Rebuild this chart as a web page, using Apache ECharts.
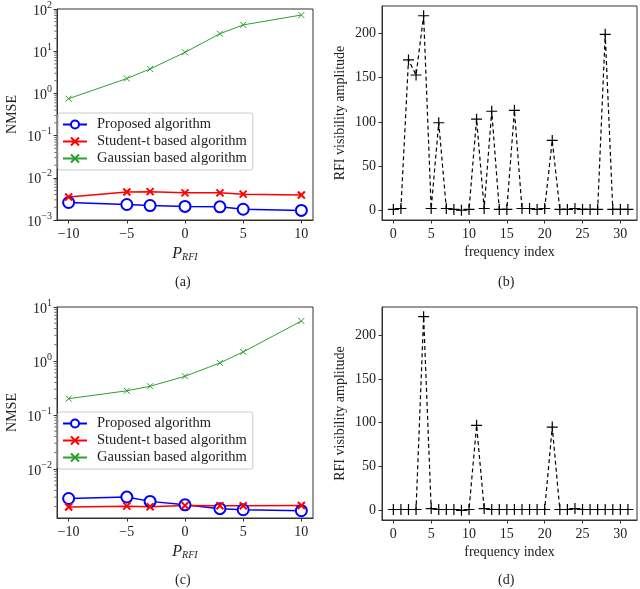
<!DOCTYPE html>
<html lang="en">
<head>
    <meta charset="UTF-8">
    <title>NMSE and RFI amplitude</title>
    <script src="https://cdn.jsdelivr.net/npm/echarts@6/dist/echarts.min.js"></script>
    <style>
        html, body { margin: 0; padding: 0; background: #fff; }
        #main { width: 640px; height: 589px; }
    </style>
</head>
<body>
    <div id="main"></div>
    <script>
        // x values (P_RFI) for panels (a) and (c)
        var pRfi = [-10, -5, -3, 0, 3, 5, 10];
        // panel (a)
        var propA = [2.6e-3, 2.33e-3, 2.2e-3, 2.1e-3, 2.05e-3, 1.8e-3, 1.69e-3];
        var studA = [3.5e-3, 4.6e-3, 4.7e-3, 4.4e-3, 4.4e-3, 4.1e-3, 3.9e-3];
        var gaussA = [0.75, 2.25, 3.8, 9.4, 26, 42, 72];
        // panel (c)
        var propC = [2.83e-3, 3.0e-3, 2.5e-3, 2.16e-3, 1.83e-3, 1.75e-3, 1.68e-3];
        var studC = [1.96e-3, 2.04e-3, 1.99e-3, 2.1e-3, 2.08e-3, 2.08e-3, 2.1e-3];
        var gaussC = [0.2, 0.28, 0.34, 0.52, 0.92, 1.47, 5.5];
        // panels (b) and (d): RFI amplitude per frequency index 0..31
        var ampB = [1, 2, 170, 153, 220, 2, 99, 2, 1, 0, 1, 103, 2, 112, 1, 1,
                    113, 2, 2, 1, 2, 79, 1, 1, 2, 1, 1, 1, 199, 1, 1, 1];
        var ampD = [1, 1, 1, 1, 221, 2, 1, 1, 1, 0, 1, 97, 2, 1, 1, 1,
                    1, 1, 1, 1, 1, 95, 1, 1, 2, 1, 1, 1, 1, 1, 1, 1];
        // tick labels
        var pTicks = [-10, -5, 0, 5, 10];
        var fTicks = [0, 5, 10, 15, 20, 25, 30];
        var ampTicks = [0, 50, 100, 150, 200];
        var minorMult = [2, 3, 4, 5, 6, 7, 8, 9];

        var names = ['Proposed algorithm', 'Student-t based algorithm', 'Gaussian based algorithm'];
        var FONT = 'Liberation Serif';
        var FS = 14;
        var AX = '#333';

        function pairs(xs, ys) {
            return xs.map(function (x, i) { return [x, ys[i]]; });
        }

        // minor tick values (2..9 x 10^e) between two decades
        function minorTicks(loExp, hiExp, min) {
            var out = [];
            for (var e = loExp; e < hiExp; e++) {
                minorMult.forEach(function (m) {
                    var v = m * Math.pow(10, e);
                    if (v >= min) out.push(v);
                });
            }
            return out;
        }

        function powLabel(v) {
            var e = Math.round(Math.log10(v));
            return '{b|10}{s|' + (e < 0 ? '\u2212' + (-e) : e) + '}';
        }

        function numLabel(v) {
            return v < 0 ? '\u2212' + (-v) : String(v);
        }

        var crossPath = 'path://M0,0L10,10M10,0L0,10';
        var plusPath = 'path://M5,0L5,10M0,5L10,5';

        var grids = [
            { left: 57, top: 5, width: 256, height: 215 },
            { left: 382, top: 6, width: 255, height: 214 },
            { left: 57, top: 307, width: 256, height: 211 },
            { left: 382, top: 307, width: 255, height: 213 }
        ].map(function (g) {
            g.show = true;
            g.borderColor = AX;
            g.borderWidth = 1;
            g.backgroundColor = 'transparent';
            return g;
        });

        function xAxisP(gi) {
            return {
                type: 'value', gridIndex: gi, min: -11, max: 11, position: 'bottom',
                splitLine: { show: false },
                axisLine: { onZero: false, lineStyle: { color: AX } },
                axisTick: { length: 3.5, customValues: pTicks, lineStyle: { color: AX } },
                axisLabel: {
                    customValues: pTicks, formatter: numLabel, margin: 7,
                    color: '#222', fontFamily: FONT, fontSize: FS
                },
                name: 'P{sub|RFI}', nameLocation: 'middle', nameGap: 26,
                nameTextStyle: {
                    color: '#222', fontFamily: FONT, fontSize: 16, fontStyle: 'italic',
                    rich: { sub: { fontFamily: FONT, fontSize: 10, fontStyle: 'italic', verticalAlign: 'bottom', padding: [6, 0, 0, 0] } }
                }
            };
        }

        function xAxisF(gi) {
            return {
                type: 'value', gridIndex: gi, min: -1.5, max: 32.2, position: 'bottom',
                splitLine: { show: false },
                axisLine: { onZero: false, lineStyle: { color: AX } },
                axisTick: { length: 3.5, customValues: fTicks, lineStyle: { color: AX } },
                axisLabel: {
                    customValues: fTicks, margin: 7,
                    color: '#222', fontFamily: FONT, fontSize: FS
                },
                name: 'frequency index', nameLocation: 'middle', nameGap: 25,
                nameTextStyle: { color: '#222', fontFamily: FONT, fontSize: FS }
            };
        }

        function yAxisLog(gi, min, max) {
            return {
                type: 'log', gridIndex: gi, min: min, max: max, logBase: 10, position: 'left',
                splitLine: { show: false },
                axisLine: { onZero: false, lineStyle: { color: AX } },
                axisTick: { length: 3.5, lineStyle: { color: AX } },
                axisLabel: {
                    formatter: powLabel, showMinLabel: min === 1e-3, margin: 5,
                    color: '#222', fontFamily: FONT,
                    rich: {
                        b: { fontFamily: FONT, fontSize: FS, color: '#222', lineHeight: 18, verticalAlign: 'bottom' },
                        s: { fontFamily: FONT, fontSize: 10, color: '#222', lineHeight: 18, verticalAlign: 'top' }
                    }
                },
                name: 'NMSE', nameLocation: 'middle', nameGap: 38,
                nameTextStyle: { color: '#222', fontFamily: FONT, fontSize: FS }
            };
        }

        function yAxisAmp(gi, min, max) {
            return {
                type: 'value', gridIndex: gi, min: min, max: max, position: 'left',
                splitLine: { show: false },
                axisLine: { onZero: false, lineStyle: { color: AX } },
                axisTick: { length: 3.5, customValues: ampTicks, lineStyle: { color: AX } },
                axisLabel: {
                    customValues: ampTicks, margin: 6,
                    color: '#222', fontFamily: FONT, fontSize: FS
                },
                name: 'RFI visibility amplitude', nameLocation: 'middle', nameGap: 35,
                nameTextStyle: { color: '#222', fontFamily: FONT, fontSize: FS }
            };
        }

        // minor ticks of a log axis, drawn as short dashes just left of the axis line
        function minorTickSeries(xi, yi, vals) {
            return {
                type: 'scatter', xAxisIndex: xi, yAxisIndex: yi, silent: true,
                data: vals.map(function (v) { return [-11, v]; }),
                symbol: 'rect', symbolSize: [2.2, 0.9], symbolOffset: [-1.6, 0],
                itemStyle: { color: AX },
                clip: false, z: 1
            };
        }

        function nmseSeries(xi, yi, prop, stud, gauss) {
            return [
                {
                    name: names[0], type: 'line', xAxisIndex: xi, yAxisIndex: yi,
                    data: pairs(pRfi, prop), symbol: 'emptyCircle', symbolSize: 11,
                    lineStyle: { color: '#0000ff', width: 1.5 },
                    itemStyle: { color: '#0000ff', borderColor: '#0000ff', borderWidth: 1.5 },
                    emphasis: { disabled: true }
                },
                {
                    name: names[1], type: 'line', xAxisIndex: xi, yAxisIndex: yi,
                    data: pairs(pRfi, stud), symbol: crossPath, symbolSize: 7,
                    lineStyle: { color: '#ff0000', width: 1.5 },
                    itemStyle: { color: '#ff0000', borderColor: '#ff0000', borderWidth: 2 },
                    emphasis: { disabled: true }
                },
                {
                    name: names[2], type: 'line', xAxisIndex: xi, yAxisIndex: yi,
                    data: pairs(pRfi, gauss), symbol: crossPath, symbolSize: 6,
                    lineStyle: { color: '#2ca02c', width: 1 },
                    itemStyle: { color: '#2ca02c', borderColor: '#2ca02c', borderWidth: 1 },
                    emphasis: { disabled: true }
                }
            ];
        }

        function ampSeries(xi, yi, amp) {
            return {
                type: 'line', xAxisIndex: xi, yAxisIndex: yi,
                data: amp.map(function (v, i) { return [i, v]; }),
                symbol: plusPath, symbolSize: 11,
                lineStyle: { color: '#000', width: 1.2, type: [4, 3] },
                itemStyle: { color: '#000', borderColor: '#000', borderWidth: 1.2 },
                emphasis: { disabled: true }
            };
        }

        function legendAt(top) {
            return {
                data: names, orient: 'vertical', left: 58, top: top,
                itemWidth: 24, itemHeight: 10, itemGap: 2,
                padding: [4, 6, 4, 4],
                backgroundColor: 'rgba(255,255,255,0.8)',
                borderColor: '#ccc', borderWidth: 1, borderRadius: 2,
                selectedMode: false,
                textStyle: { fontFamily: FONT, fontSize: 14.5, color: '#222', padding: [0, 0, 0, 5] }
            };
        }

        function caption(text, x, y) {
            return {
                type: 'text', left: x, top: y,
                style: { text: text, fontFamily: FONT, fontSize: FS, fill: '#222' }
            };
        }

        var chart = echarts.init(document.getElementById('main'));
        chart.setOption({
            animation: false,
            grid: grids,
            xAxis: [xAxisP(0), xAxisF(1), xAxisP(2), xAxisF(3)],
            yAxis: [
                yAxisLog(0, 1e-3, 100),
                yAxisAmp(1, -11, 231),
                yAxisLog(2, 0.00123, 10),
                yAxisAmp(3, -11, 232)
            ],
            legend: [legendAt(113), legendAt(412)],
            series: [].concat(
                nmseSeries(0, 0, propA, studA, gaussA),
                [ampSeries(1, 1, ampB)],
                nmseSeries(2, 2, propC, studC, gaussC),
                [ampSeries(3, 3, ampD)],
                [minorTickSeries(0, 0, minorTicks(-3, 2, 1e-3)),
                 minorTickSeries(2, 2, minorTicks(-3, 1, 0.00123))]
            ),
            graphic: [
                caption('(a)', 175, 275),
                caption('(b)', 498, 275),
                caption('(c)', 175, 573),
                caption('(d)', 498, 573)
            ]
        });
    </script>
</body>
</html>
